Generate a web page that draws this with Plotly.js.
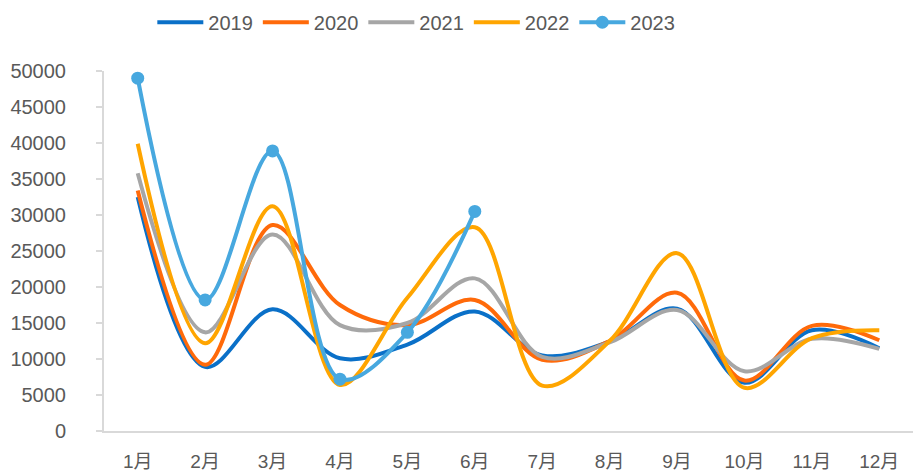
<!DOCTYPE html>
<html>
<head>
<meta charset="utf-8">
<script src="https://cdn.plot.ly/plotly-3.0.1.min.js"></script>
<style>html,body{margin:0;padding:0;background:#fff;}#chart{width:915px;height:474px;}</style>
</head>
<body>
<div id="chart"></div>
<script>
const months = ["1月","2月","3月","4月","5月","6月","7月","8月","9月","10月","11月","12月"];
const s2019 = [32500, 8900, 16900, 10100, 12000, 16600, 10500, 12400, 17000, 6700, 14000, 11500];
const s2020 = [33400, 9200, 28600, 17500, 14700, 18200, 9900, 12500, 19200, 7000, 14600, 12600];
const s2021 = [35800, 13700, 27300, 14700, 15000, 21200, 10300, 12300, 16800, 8300, 12800, 11400];
const s2022 = [39900, 12200, 31200, 6400, 18500, 28300, 6300, 12500, 24700, 6000, 12900, 14000];
const s2023 = [49000, 18200, 38900, 7200, 13700, 30500];
const yTicks = [0,5000,10000,15000,20000,25000,30000,35000,40000,45000,50000];

const series = [
  {name:"2019", y:s2019, color:"#0A70C8"},
  {name:"2020", y:s2020, color:"#FF6A0A"},
  {name:"2021", y:s2021, color:"#A6A6A6"},
  {name:"2022", y:s2022, color:"#FFA500"},
];
const traces = series.map(s => ({
  type:"scatter", mode:"lines", name:s.name, x:months.slice(0, s.y.length), y:s.y,
  line:{color:s.color, width:4, shape:"spline", smoothing:1}
}));
traces.push({
  type:"scatter", mode:"lines+markers", name:"2023", x:months.slice(0, s2023.length), y:s2023,
  line:{color:"#47A8DF", width:4, shape:"spline", smoothing:1},
  marker:{color:"#47A8DF", size:13}
});

const layout = {
  width:915, height:474,
  margin:{l:104, r:2, t:71, b:43, autoexpand:false},
  paper_bgcolor:"#fff", plot_bgcolor:"#fff",
  font:{family:"Arial, 'Liberation Sans', 'Noto Sans CJK SC', sans-serif", color:"#595959"},
  showlegend:true,
  legend:{orientation:"h", xref:"container", yref:"container", x:0.455, xanchor:"center",
          y:0.953, yanchor:"middle",
          font:{size:20, color:"#595959"}, itemwidth:46, traceorder:"normal"},
  xaxis:{type:"category", categoryorder:"array", categoryarray:months,
         range:[-0.5, 11.5], showgrid:false, zeroline:false,
         showline:true, linecolor:"#D9D9D9", linewidth:2,
         ticks:"", ticklabelstandoff:12,
         tickfont:{size:19, color:"#595959", family:"Arial, 'Noto Sans CJK SC', sans-serif"}},
  yaxis:{range:[0,50000], tickvals:yTicks, ticktext:yTicks.map(String),
         showgrid:false, zeroline:false, showline:true, linecolor:"#D9D9D9", linewidth:2,
         ticks:"outside", ticklen:6, tickcolor:"#D9D9D9", tickwidth:1.5,
         ticklabelstandoff:26,
         tickfont:{size:20, color:"#595959"}}
};
Plotly.newPlot("chart", traces, layout, {displayModeBar:false, staticPlot:true});
</script>
</body>
</html>
